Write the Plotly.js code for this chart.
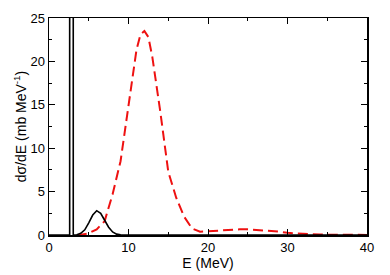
<!DOCTYPE html>
<html><head><meta charset="utf-8">
<script src="https://cdn.plot.ly/plotly-3.0.1.min.js"></script>
<style>html,body{margin:0;padding:0;background:#fff}#c{width:390px;height:275px}</style>
</head><body><div id="c"></div>
<script>
// Black solid curve (narrow spike + low-energy bump)
const blackE = [0, 2.6, 2.6, 3.05, 3.05, 3.5, 4.0, 4.5, 5.0, 5.5, 6.0, 6.5, 7.0, 7.5, 8.0, 8.5, 9.0, 10.0, 40.0];
const blackS = [0, 0, 30, 30, 0, 0.03, 0.2, 0.6, 1.4, 2.3, 2.8, 2.5, 1.7, 0.9, 0.35, 0.1, 0.02, 0, 0];
// Red dashed curve
const redE = [3.5, 4, 5, 6, 7, 8, 9, 10, 11, 11.5, 12, 12.5, 13, 14, 15, 16, 17, 18, 19, 20, 21, 22, 23, 24, 25, 26, 27, 28, 29, 30, 31, 32, 33, 34, 35, 37, 40];
const redS = [0, 0.02, 0.2, 0.65, 1.6, 4.7, 8.5, 14.9, 21.3, 23.1, 23.5, 22.8, 20.5, 14.2, 7.3, 4.3, 2.1, 0.75, 0.38, 0.42, 0.5, 0.58, 0.63, 0.66, 0.65, 0.6, 0.52, 0.45, 0.38, 0.25, 0.17, 0.11, 0.08, 0.05, 0.03, 0.02, 0.01];
const xTicks = [0, 10, 20, 30, 40];
const yTicks = [0, 5, 10, 15, 20, 25];

const font = {family: 'Liberation Sans, Arial, sans-serif', size: 13, color: '#000'};
const traces = [
  {x: redE, y: redS, mode: 'lines', line: {color: '#ee1111', width: 2, dash: '10px,5px'}, hoverinfo: 'skip'},
  {x: blackE, y: blackS, mode: 'lines', line: {color: '#000', width: 1.6}, hoverinfo: 'skip'}
];
const axisCommon = {
  showgrid: false, zeroline: false, showline: true, linecolor: '#000', linewidth: 1.5,
  mirror: 'ticks', ticks: 'inside', ticklen: 6, tickwidth: 1, tickcolor: '#000',
  tickfont: font
};
const layout = {
  width: 390, height: 275,
  margin: {l: 49, r: 23, t: 18, b: 40},
  paper_bgcolor: '#fff', plot_bgcolor: '#fff',
  showlegend: false,
  font: font,
  xaxis: Object.assign({}, axisCommon, {
    range: [0, 40], tickvals: xTicks, ticktext: xTicks.map(String),
    minor: {dtick: 5, tick0: 0, ticks: 'inside', ticklen: 3, tickcolor: '#000', tickwidth: 1},
    title: {text: 'E (MeV)', font: {family: font.family, size: 14}, standoff: 0}
  }),
  yaxis: Object.assign({}, axisCommon, {
    range: [0, 25], tickvals: yTicks, ticktext: yTicks.map(String),
    minor: {dtick: 2.5, tick0: 0, ticks: 'inside', ticklen: 3, tickcolor: '#000', tickwidth: 1},
    title: {text: 'dσ/dE (mb MeV<sup>-1</sup>)', font: {family: font.family, size: 14}, standoff: 0}
  })
};
Plotly.newPlot('c', traces, layout, {staticPlot: true, displayModeBar: false});
</script></body></html>
